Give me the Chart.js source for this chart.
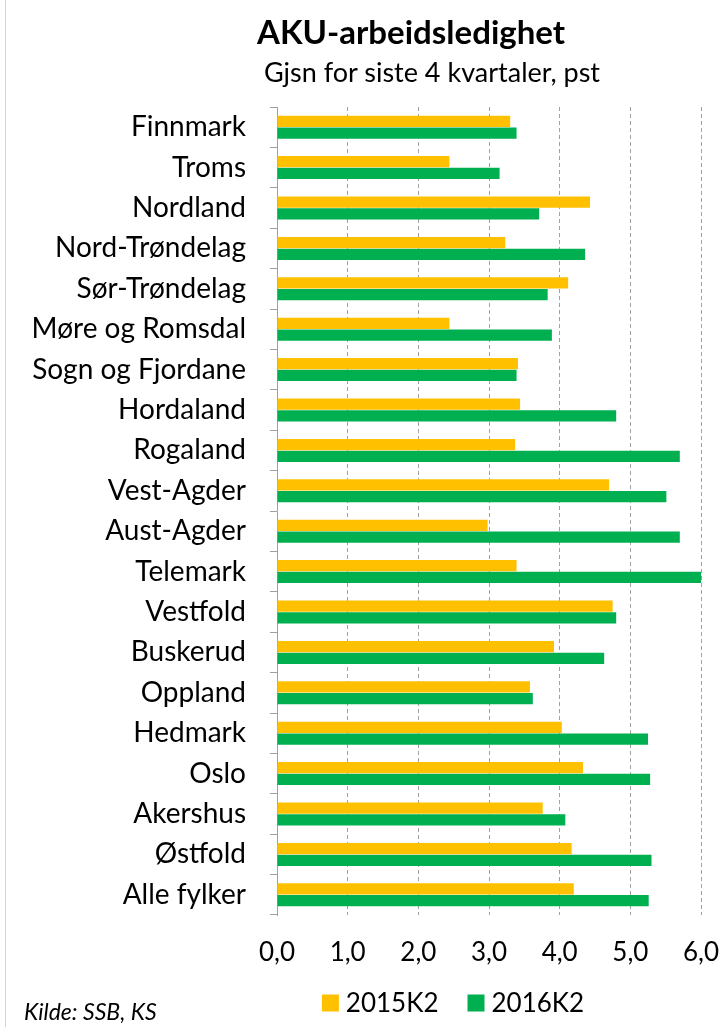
<!DOCTYPE html>
<html><head><meta charset="utf-8">
<script src="https://cdn.jsdelivr.net/npm/chart.js@4"></script>
<style>
html,body{margin:0;padding:0;background:#fff;}
#wrap{position:relative;width:727px;height:1027px;overflow:hidden;background:#fff;}
#leftline{position:absolute;left:5px;top:0;width:1px;height:1027px;background:#d4d4d4;}
.t{position:absolute;white-space:nowrap;font-family:Lato,sans-serif;color:#000;transform:translateX(-50%);line-height:1;}
#title{left:411px;top:15px;font-weight:bold;font-size:33px;}
#sub{left:432px;top:58px;font-size:27px;}
#src{position:absolute;left:24px;top:1000px;font-style:italic;font-size:23px;font-family:Lato,sans-serif;line-height:1;color:#000;}
canvas{position:absolute;left:0;top:0;}
</style></head>
<body>
<div id="wrap">
<div id="leftline"></div>
<canvas id="c" width="727" height="1027"></canvas>
<div class="t" id="title">AKU-arbeidsledighet</div>
<div class="t" id="sub">Gjsn for siste 4 kvartaler, pst</div>
<div id="src">Kilde: SSB, KS</div>
</div>
<script>
const categories = ['Finnmark','Troms','Nordland','Nord-Trøndelag','Sør-Trøndelag','Møre og Romsdal','Sogn og Fjordane','Hordaland','Rogaland','Vest-Agder','Aust-Agder','Telemark','Vestfold','Buskerud','Oppland','Hedmark','Oslo','Akershus','Østfold','Alle fylker'];
const seriesNames = ['2015K2','2016K2'];
const values2015K2 = [3.30,2.44,4.43,3.23,4.12,2.44,3.41,3.44,3.37,4.70,2.98,3.39,4.75,3.92,3.58,4.03,4.33,3.76,4.17,4.20];
const values2016K2 = [3.39,3.15,3.71,4.36,3.83,3.89,3.39,4.80,5.70,5.51,5.70,6.00,4.80,4.63,3.62,5.25,5.28,4.08,5.30,5.26];
const xTickLabels = ['0,0','1,0','2,0','3,0','4,0','5,0','6,0'];

const FONT = 'Lato, sans-serif';
const legendPlugin = {
  id: 'customLegend',
  afterDraw(chart) {
    const ctx = chart.ctx;
    ctx.save();
    ctx.font = '26px ' + FONT;
    ctx.textBaseline = 'middle';
    const box = 17, gap = 7, itemGap = 29;
    const items = chart.data.datasets.map(d => ({label: d.label, color: d.backgroundColor, w: ctx.measureText(d.label).width}));
    let total = 0;
    items.forEach((it, i) => { total += box + gap + it.w + (i < items.length - 1 ? itemGap : 0); });
    let x = 453 - total / 2;
    const cy = 1003;
    items.forEach(it => {
      ctx.fillStyle = it.color;
      ctx.fillRect(x, cy - box / 2, box, box);
      x += box + gap;
      ctx.fillStyle = '#000';
      ctx.fillText(it.label, x, cy + 1);
      x += it.w + itemGap;
    });
    ctx.restore();
  }
};

new Chart(document.getElementById('c'), {
  type: 'bar',
  data: {
    labels: categories,
    datasets: [
      {label: seriesNames[0], data: values2015K2, backgroundColor: '#FFC000', borderWidth: 0},
      {label: seriesNames[1], data: values2016K2, backgroundColor: '#00B050', borderWidth: 0}
    ]
  },
  options: {
    indexAxis: 'y',
    responsive: false,
    animation: false,
    devicePixelRatio: 1,
    layout: {padding: {top: 107, right: 26, bottom: 42, left: 0}},
    datasets: {bar: {categoryPercentage: 0.58, barPercentage: 0.96}},
    plugins: {legend: {display: false}, title: {display: false}, tooltip: {enabled: false}},
    scales: {
      x: {
        min: 0, max: 6,
        ticks: {stepSize: 1, color: '#000', font: {family: FONT, size: 26}, padding: 22,
          maxRotation: 0, minRotation: 0, autoSkip: false,
          callback: (v, i) => xTickLabels[i]},
        grid: {color: '#a0a0a0', lineWidth: 1, drawTicks: false},
        border: {display: false, dash: [4, 3]},
        afterFit: s => { s.height = 70; s.paddingLeft = 0; s.paddingRight = 0; }
      },
      y: {
        ticks: {color: '#000', font: {family: FONT, size: 28}, padding: 24},
        grid: {drawOnChartArea: false, drawTicks: true, tickLength: 7, color: '#a0a0a0', tickColor: '#a0a0a0'},
        border: {display: true, color: '#a0a0a0', width: 1},
        afterFit: s => { s.width = 277; }
      }
    }
  },
  plugins: [legendPlugin]
});
</script>
</body></html>
